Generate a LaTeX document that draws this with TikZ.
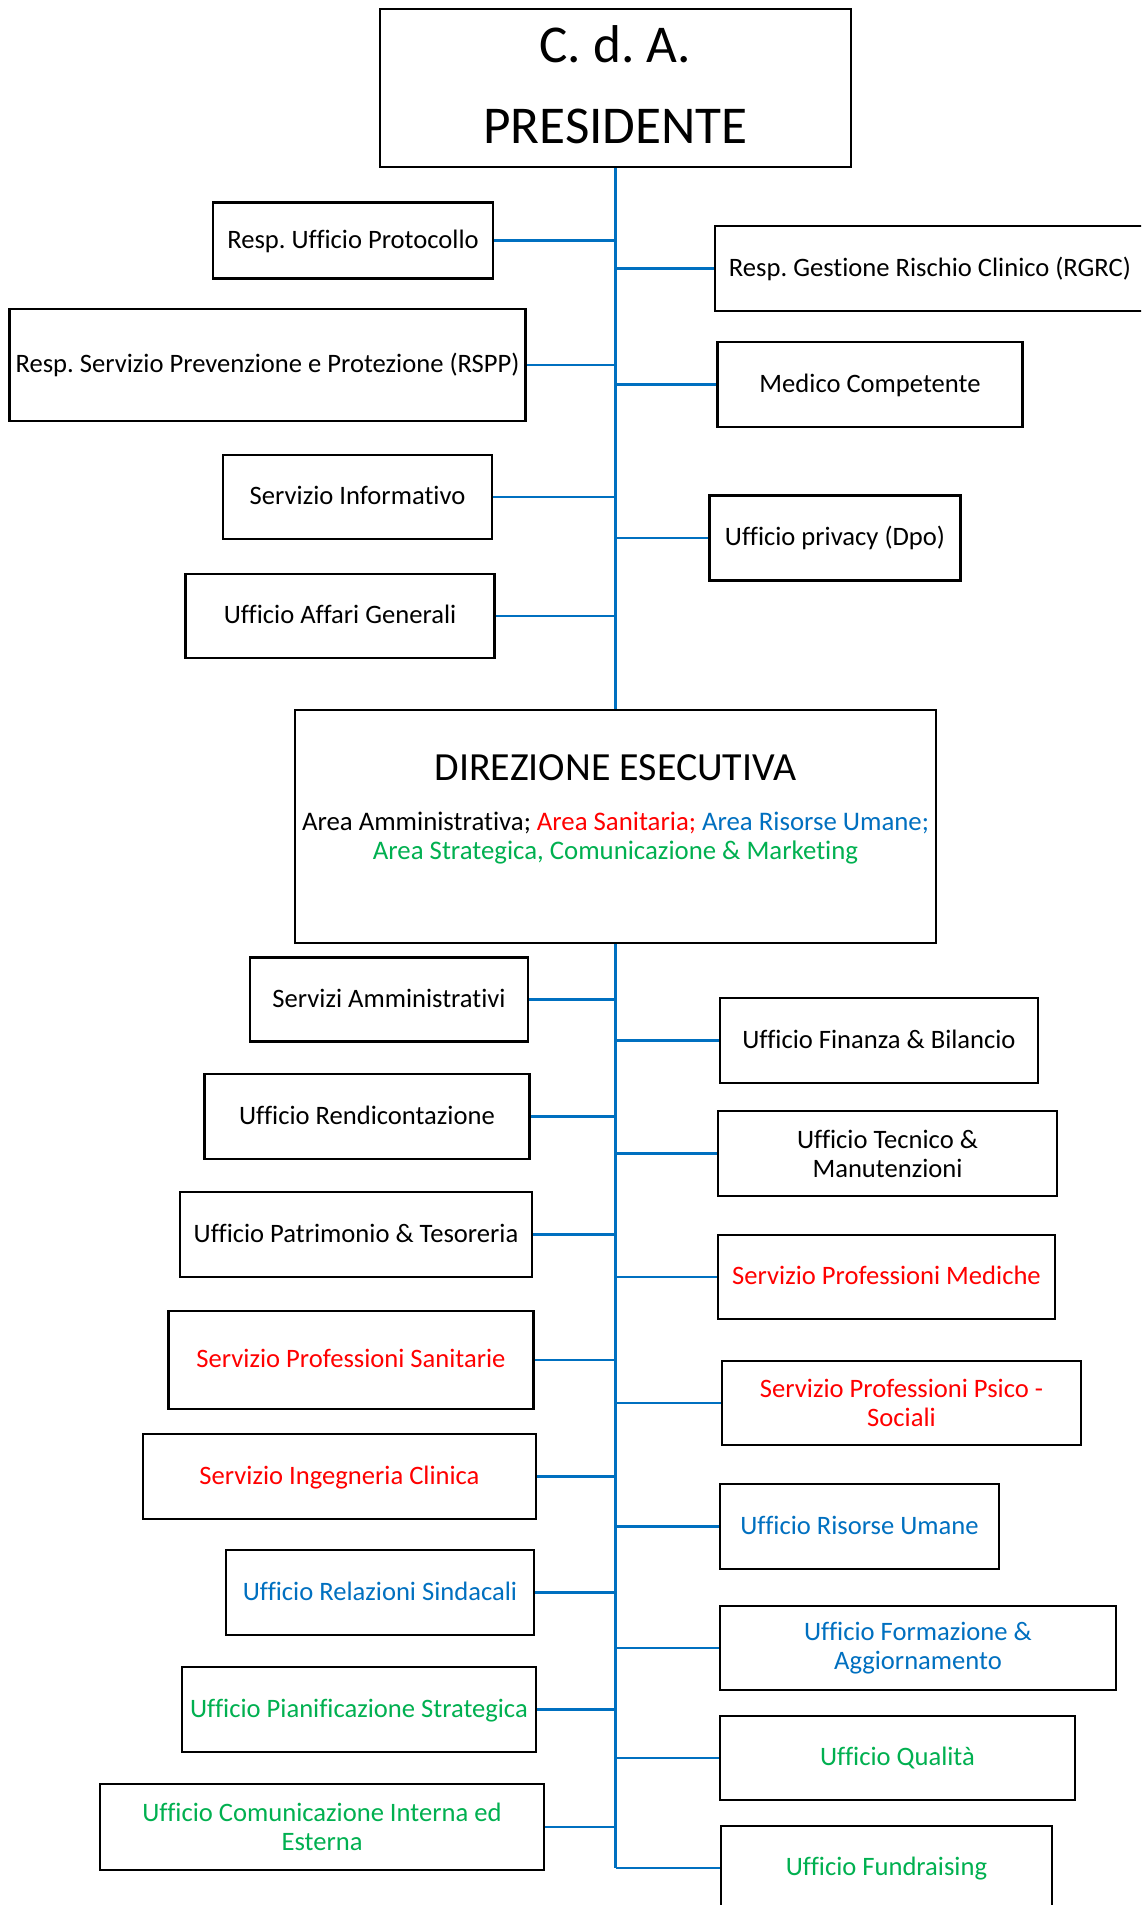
\documentclass[tikz,border=0pt]{standalone}
\usepackage{fontspec}
\setmainfont{Carlito}[Ligatures={NoCommon}]
\definecolor{ored}{HTML}{FF0000}
\definecolor{oblue}{HTML}{0070C0}
\definecolor{ogreen}{HTML}{00B050}
\begin{document}
\frenchspacing
\begin{tikzpicture}[x=1pt,y=-1pt,
  box/.style={draw=black, line width=2.4pt, inner sep=0pt, align=center,
    font=\fontsize{26.6}{29}\selectfont},
  one/.style={text height=21.5pt, text depth=6.5pt},
  conn/.style={oblue, line width=2.3pt},
  trunk/.style={oblue, line width=2.4pt},
  big/.style={font=\fontsize{53.2}{60}\selectfont, anchor=base},
  mid/.style={font=\fontsize{39.9}{44}\selectfont, anchor=base},
  area/.style={font=\fontsize{26.8}{29}\selectfont, anchor=base}]
\clip (0,0) rectangle (1141,1905);
\fill[white] (0,0) rectangle (1141,1905);

% top box
\node[box, minimum width=471pt, minimum height=158pt] (pres) at (615.5,88) {};
\node[big] (cda) at (615.5,63) {C. d. A.};
\node[big] (presl) at (615.5,144) {PRESIDENTE};

% upper boxes
\node[box, one, minimum width=280pt, minimum height=76pt] (prot) at (353,240.5) {Resp. Ufficio Protocollo};
\node[box, one, minimum width=430pt, minimum height=85pt] (rgrc) at (930,268.5) {Resp. Gestione Rischio Clinico (RGRC)};
\node[box, one, minimum width=516pt, minimum height=112pt] (rspp) at (267.5,365) {Resp. Servizio Prevenzione e Protezione (RSPP)};
\node[box, one, minimum width=305pt, minimum height=85pt] (med) at (870,384.5) {Medico Competente};
\node[box, one, minimum width=269pt, minimum height=84pt] (inf) at (357.5,497) {Servizio Informativo};
\node[box, one, minimum width=251pt, minimum height=85pt] (priv) at (835,538) {Ufficio privacy (Dpo)};
\node[box, one, minimum width=309pt, minimum height=84pt] (aff) at (340,616) {Ufficio Affari Generali};

% direzione
\node[box, minimum width=641pt, minimum height=233pt] (dir) at (615.5,826.5) {};
\node[mid] (dirt) at (615.5,780) {DIREZIONE ESECUTIVA};
\node[area] (dira) at (615.5,830) {Area Amministrativa; \textcolor{ored}{Area Sanitaria;} \textcolor{oblue}{Area Risorse Umane;}};
\node[area, text=ogreen] (dirb) at (615.5,859.5) {Area Strategica, Comunicazione \& Marketing};

% lower boxes left
\node[box, one, minimum width=278pt, minimum height=84pt] (sam) at (389,999.5) {Servizi Amministrativi};
\node[box, one, minimum width=325pt, minimum height=85pt] (rend) at (367,1116.5) {Ufficio Rendicontazione};
\node[box, one, minimum width=352pt, minimum height=85pt] (pat) at (356,1234.5) {Ufficio Patrimonio \& Tesoreria};
\node[box, one, minimum width=365pt, minimum height=98pt, text=ored] (san) at (351,1360) {Servizio Professioni Sanitarie};
\node[box, one, minimum width=393pt, minimum height=85pt, text=ored] (ing) at (339.5,1476.5) {Servizio Ingegneria Clinica};
\node[box, one, minimum width=308pt, minimum height=85pt, text=oblue] (rel) at (380,1592.5) {Ufficio Relazioni Sindacali};
\node[box, one, minimum width=354pt, minimum height=85pt, text=ogreen] (pian) at (359,1709.5) {Ufficio Pianificazione Strategica};
\node[box, minimum width=444pt, minimum height=86pt, text=ogreen] (com) at (322,1827) {Ufficio Comunicazione Interna ed\\Esterna};

% lower boxes right
\node[box, one, minimum width=318pt, minimum height=85pt] (fin) at (879,1040.5) {Ufficio Finanza \& Bilancio};
\node[box, minimum width=339pt, minimum height=85pt] (tec) at (887.5,1153.5) {Ufficio Tecnico \&\\Manutenzioni};
\node[box, one, minimum width=337pt, minimum height=84pt, text=ored] (medi) at (886.5,1277) {Servizio Professioni Mediche};
\node[box, minimum width=359pt, minimum height=84pt, text=ored] (psi) at (901.5,1403) {Servizio Professioni Psico -\\Sociali};
\node[box, one, minimum width=279pt, minimum height=85pt, text=oblue] (ris) at (859.5,1526.5) {Ufficio Risorse Umane};
\node[box, minimum width=396pt, minimum height=84pt, text=oblue] (form) at (918,1648) {Ufficio Formazione \&\\Aggiornamento};
\node[box, one, minimum width=355pt, minimum height=84pt, text=ogreen] (qual) at (897.5,1758) {Ufficio Qualità};
\node[box, one, minimum width=331pt, minimum height=84pt, text=ogreen] (fund) at (886.5,1868) {Ufficio Fundraising};

% trunk
\draw[trunk] (pres.south) -- (dir.north);
\draw[trunk] (dir.south) -- (fund.west -| dir.south);

% connectors
\foreach \n in {prot,rspp,inf,aff,sam,rend,pat,san,ing,rel,pian,com}
  \draw[conn] (\n.east) -- (\n.east -| pres.south);
\foreach \n in {rgrc,med,priv,fin,tec,medi,psi,ris,form,qual,fund}
  \draw[conn] (\n.west) -- (\n.west -| pres.south);
\end{tikzpicture}
\end{document}
